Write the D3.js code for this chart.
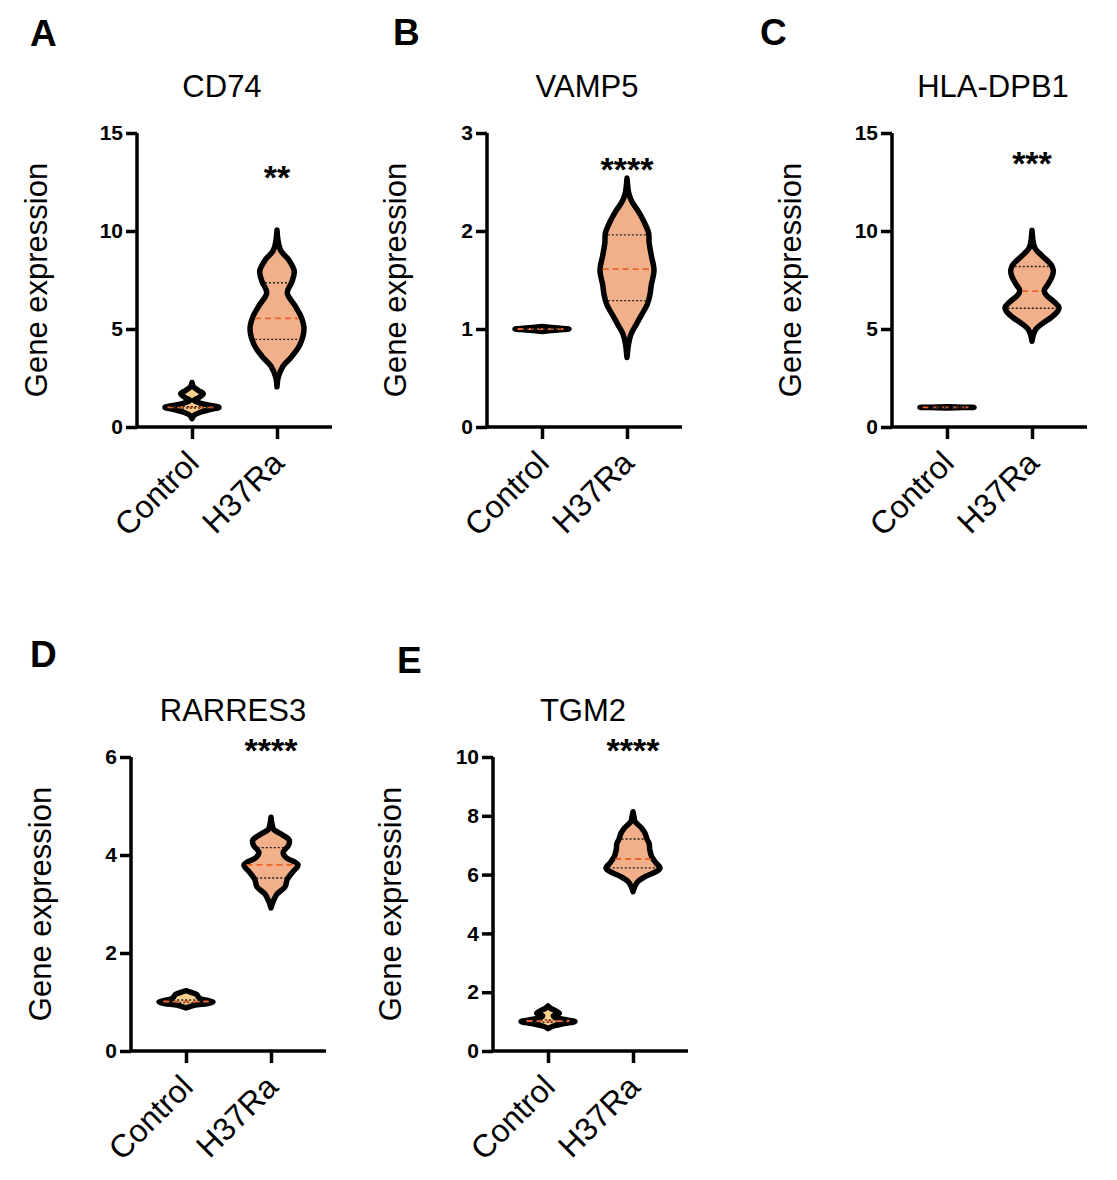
<!DOCTYPE html>
<html>
<head>
<meta charset="utf-8">
<script src="https://cdn.jsdelivr.net/npm/d3@7"></script>
<style>
  body { margin: 0; background: #fff; }
  svg text { font-family: Arial, "Liberation Sans", sans-serif; fill: #000; }
</style>
</head>
<body>
<svg id="chart" width="1117" height="1180"></svg>
<script>
// ---- data ----
var groups = ["Control", "H37Ra"];
var genes = ["CD74", "VAMP5", "HLA-DPB1", "RARRES3", "TGM2"];
var letters = ["A", "B", "C", "D", "E"];
var yMax = [15, 3, 15, 6, 10];
var yTicks = [[0, 5, 10, 15], [0, 1, 2, 3], [0, 5, 10, 15], [0, 2, 4, 6], [0, 2, 4, 6, 8, 10]];
var stars = ["**", "****", "***", "****", "****"];

// violin outlines: [expression value, relative density]
var cd74Control = [[0.42,0],[0.6,0.08],[0.75,0.3],[0.9,0.7],[1.0,1.0],[1.1,0.7],[1.22,0.3],[1.35,0.08],[1.5,0.25],[1.7,0.42],[1.88,0.22],[2.05,0.06],[2.27,0]];
var cd74H37Ra = [[2.05,0],[2.5,0.04],[3.1,0.22],[3.6,0.55],[4.2,0.85],[5.0,1.0],[5.6,0.9],[6.2,0.66],[6.85,0.38],[7.4,0.55],[7.95,0.64],[8.5,0.45],[9.0,0.14],[9.5,0.04],[10.05,0]];
var vamp5Control = [[0.975,0],[0.99,0.6],[1.0,1.0],[1.01,0.6],[1.025,0]];
var vamp5H37Ra = [[0.71,0],[0.85,0.06],[0.95,0.15],[1.05,0.35],[1.15,0.55],[1.25,0.75],[1.35,0.85],[1.45,0.9],[1.6,1.0],[1.75,0.9],[1.88,0.82],[1.98,0.8],[2.1,0.62],[2.2,0.42],[2.3,0.18],[2.38,0.07],[2.54,0]];
var hlaControl = [[0.97,0],[0.99,0.6],[1.0,1.0],[1.01,0.6],[1.03,0]];
var hlaH37Ra = [[4.37,0],[4.7,0.05],[5.0,0.15],[5.3,0.4],[5.6,0.72],[5.9,0.95],[6.1,1.0],[6.35,0.85],[6.7,0.55],[6.95,0.45],[7.3,0.6],[7.7,0.75],[8.0,0.79],[8.3,0.7],[8.7,0.4],[9.1,0.12],[9.4,0.05],[10.04,0]];
var rarres3Control = [[0.88,0],[0.93,0.3],[0.97,0.8],[1.0,1.0],[1.03,0.8],[1.06,0.55],[1.1,0.46],[1.15,0.4],[1.19,0.22],[1.23,0]];
var rarres3H37Ra = [[2.92,0],[3.05,0.08],[3.2,0.22],[3.35,0.52],[3.5,0.6],[3.65,0.8],[3.8,1.0],[3.95,0.55],[4.05,0.45],[4.2,0.65],[4.3,0.68],[4.42,0.4],[4.52,0.1],[4.6,0.05],[4.77,0]];
var tgm2Control = [[0.76,0],[0.85,0.2],[0.93,0.6],[1.0,1.0],[1.07,0.6],[1.15,0.25],[1.2,0.2],[1.28,0.42],[1.36,0.3],[1.45,0.1],[1.53,0]];
var tgm2H37Ra = [[5.42,0],[5.6,0.07],[5.76,0.18],[5.93,0.45],[6.1,0.85],[6.22,1.0],[6.4,0.85],[6.6,0.7],[6.85,0.62],[7.05,0.6],[7.2,0.52],[7.4,0.45],[7.6,0.3],[7.8,0.08],[7.95,0.04],[8.14,0]];

// quartiles [Q1, median, Q3]
var cd74Quart = [[0.97, 1.0, 1.04], [4.47, 5.54, 7.36]];
var vamp5Quart = [[0.995, 1.0, 1.005], [1.29, 1.61, 1.96]];
var hlaQuart = [[0.995, 1.0, 1.005], [6.06, 6.93, 8.19]];
var rarres3Quart = [[0.99, 1.01, 1.04], [3.53, 3.80, 4.15]];
var tgm2Quart = [[0.98, 1.02, 1.06], [6.23, 6.53, 7.21]];

var violins = [[cd74Control, cd74H37Ra], [vamp5Control, vamp5H37Ra], [hlaControl, hlaH37Ra],
               [rarres3Control, rarres3H37Ra], [tgm2Control, tgm2H37Ra]];
var quartiles = [cd74Quart, vamp5Quart, hlaQuart, rarres3Quart, tgm2Quart];

// ---- layout ----
var panels = [
  {x: 137, y: 133, titleX: 222, letterX: 30, letterY: 46, labelX: 36, starDy: 37},
  {x: 487, y: 133, titleX: 587, letterX: 393, letterY: 45, labelX: 395, starDy: 29},
  {x: 892, y: 133, titleX: 993, letterX: 760, letterY: 45, labelX: 790, starDy: 23},
  {x: 131, y: 757, titleX: 233, letterX: 30, letterY: 667, labelX: 40, starDy: -14},
  {x: 493, y: 757, titleX: 583, letterX: 397, letterY: 673, labelX: 390, starDy: -14}
];
var W = 195, H = 294, maxHalf = 27;
var fills = ["#F9CF8E", "#F2B08A"];

var svg = d3.select("#chart");

panels.forEach(function (p, i) {
  var g = svg.append("g").attr("transform", "translate(" + p.x + "," + p.y + ")");

  var x = d3.scalePoint().domain(groups).range([0, W]).padding(0.647);
  var y = d3.scaleLinear().domain([0, yMax[i]]).range([H, 0]);
  var w = d3.scaleLinear().domain([0, 1]).range([0, maxHalf]);

  // axes
  var yAxis = g.append("g").call(d3.axisLeft(y).tickValues(yTicks[i])
    .tickFormat(d3.format("d")).tickSize(11).tickPadding(3));
  var xAxis = g.append("g").attr("transform", "translate(0," + H + ")")
    .call(d3.axisBottom(x).tickSize(12).tickFormat(""));
  [yAxis, xAxis].forEach(function (a) {
    a.select(".domain").attr("stroke", "#000").attr("stroke-width", 3.5).attr("d",
      a === yAxis ? "M0,0V" + H : "M0,0H" + W);
    a.selectAll(".tick line").attr("stroke", "#000").attr("stroke-width", 3.5);
  });
  yAxis.selectAll(".tick text").attr("font-size", 21).attr("font-weight", "bold")
    .attr("fill", "#000").attr("font-family", "Arial, 'Liberation Sans', sans-serif");

  // group labels
  groups.forEach(function (gr) {
    g.append("text")
      .attr("transform", "translate(" + (x(gr) - 7) + "," + (H + 22) + ") rotate(-45)")
      .attr("text-anchor", "end").attr("dy", "0.7em")
      .attr("font-size", 32).text(gr);
  });

  // violins
  groups.forEach(function (gr, k) {
    var prof = violins[i][k];
    var cx = x(gr);
    var area = d3.area()
      .y(function (d) { return y(d[0]); })
      .x0(function (d) { return cx - w(d[1]); })
      .x1(function (d) { return cx + w(d[1]); })
      .curve(d3.curveCatmullRom);
    g.append("path").datum(prof).attr("d", area)
      .attr("fill", fills[k]).attr("stroke", "#000").attr("stroke-width", 5.5)
      .attr("stroke-linejoin", "round");

    var dens = d3.scaleLinear().domain(prof.map(function (d) { return d[0]; }))
      .range(prof.map(function (d) { return d[1]; }));
    quartiles[i][k].forEach(function (v, j) {
      var hw = Math.max(0, w(dens(v)) - 2.5);
      g.append("line")
        .attr("x1", cx - hw).attr("x2", cx + hw)
        .attr("y1", y(v)).attr("y2", y(v))
        .attr("stroke", j === 1 ? "#E8632B" : "#222")
        .attr("stroke-width", j === 1 ? 1.8 : 1.4)
        .attr("stroke-dasharray", j === 1 ? "6,4" : "2,2");
    });
  });

  // significance
  g.append("text").attr("x", x("H37Ra")).attr("y", p.starDy + 19)
    .attr("text-anchor", "middle").attr("font-size", 34).attr("font-weight", "bold")
    .text(stars[i]);

  // gene title
  svg.append("text").attr("x", p.titleX).attr("y", p.y - 36)
    .attr("text-anchor", "middle").attr("font-size", 31).text(genes[i]);

  // y label
  svg.append("text")
    .attr("transform", "translate(" + p.labelX + "," + (p.y + H / 2) + ") rotate(-90)")
    .attr("text-anchor", "middle").attr("dominant-baseline", "central")
    .attr("font-size", 31).text("Gene expression");

  // panel letter
  svg.append("text").attr("x", p.letterX).attr("y", p.letterY)
    .attr("font-size", 37).attr("font-weight", "bold").attr("fill", "#1a1a1a").text(letters[i]);
});
</script>
</body>
</html>
